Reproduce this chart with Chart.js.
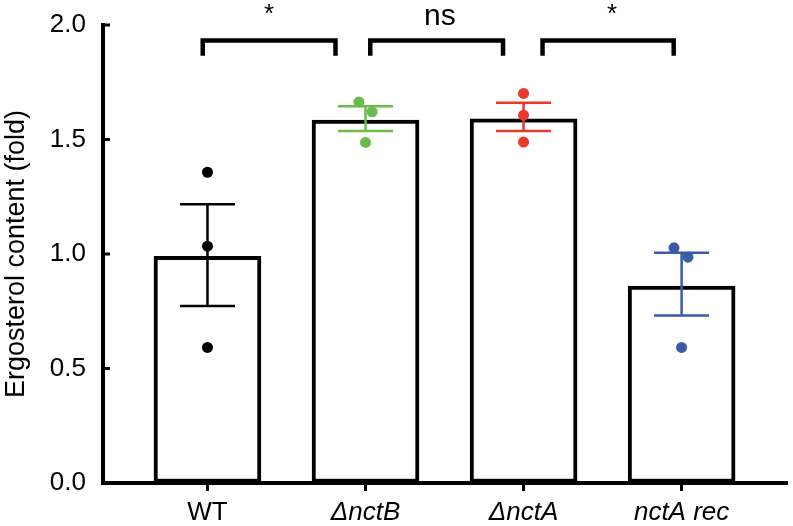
<!DOCTYPE html>
<html>
<head>
<meta charset="utf-8">
<script src="https://cdn.jsdelivr.net/npm/chart.js@4.4.1/dist/chart.umd.min.js"></script>
<style>
  html, body { margin: 0; padding: 0; background: #fff; }
  #wrap { width: 793px; height: 526px; }
</style>
</head>
<body>
<div id="wrap"><canvas id="chart"></canvas></div>
<script>
// Datos
const groups = ['WT', 'ΔnctB', 'ΔnctA', 'nctA rec'];
const means = [0.99, 1.585, 1.59, 0.86];
const errLow = [0.773, 1.537, 1.537, 0.731];
const errHigh = [1.217, 1.645, 1.66, 1.005];
const groupColors = ['#000000', '#68BC4A', '#E8392A', '#3C5AA8'];

// puntos individuales (valor y desplazamiento horizontal)
const pointsWT = [1.357, 1.034, 0.592];
const pointsB = [1.664, 1.621, 1.487];
const pointsA = [1.701, 1.606, 1.489];
const pointsRec = [1.027, 0.986, 0.592];
const jitterWT = [0, 0, 0];
const jitterB = [-0.042, 0.042, 0];
const jitterA = [0, 0, 0];
const jitterRec = [-0.048, 0.04, 0];

const yTicks = [0, 0.5, 1.0, 1.5, 2.0];

// comparaciones: [desde, hasta, etiqueta, posición etiqueta]
const brackets = [
    [-0.03, 0.81, '*', 0.39],
    [1.03, 1.87, 'ns', 1.47],
    [2.12, 2.95, '*', 2.56]
];
const bracketTop = 1.932;
const bracketFoot = 1.866;

const FONT = "'Liberation Sans', Arial, Helvetica, sans-serif";

function pts(vals, jit, idx) {
    return vals.map((v, i) => ({ x: idx + jit[i], y: v }));
}

// Barras de error
const errorBars = {
    id: 'errorBars',
    afterDatasetDraw(chart, args) {
        if (args.index !== 0) return;
        const ctx = chart.ctx;
        const xs = chart.scales.x, ys = chart.scales.y;
        ctx.save();
        ctx.lineWidth = 2.5;
        groups.forEach((g, i) => {
            const x = xs.getPixelForValue(i);
            const y0 = ys.getPixelForValue(errLow[i]);
            const y1 = ys.getPixelForValue(errHigh[i]);
            ctx.strokeStyle = groupColors[i];
            ctx.beginPath();
            ctx.moveTo(x, y0); ctx.lineTo(x, y1);
            ctx.moveTo(x - 27.5, y0); ctx.lineTo(x + 27.5, y0);
            ctx.moveTo(x - 27.5, y1); ctx.lineTo(x + 27.5, y1);
            ctx.stroke();
        });
        ctx.restore();
    }
};

// Marcas del eje Y hacia dentro + corchetes de significancia
const sigBrackets = {
    id: 'sigBrackets',
    afterDraw(chart) {
        const ctx = chart.ctx;
        const xs = chart.scales.x, ys = chart.scales.y;
        ctx.save();
        ctx.strokeStyle = '#000';
        ctx.fillStyle = '#000';

        ctx.lineWidth = 3;
        const ax = chart.chartArea.left;
        yTicks.forEach(v => {
            const py = ys.getPixelForValue(v);
            ctx.beginPath();
            ctx.moveTo(ax, py); ctx.lineTo(ax + 7, py);
            ctx.stroke();
        });

        const yt = ys.getPixelForValue(bracketTop);
        const yf = ys.getPixelForValue(bracketFoot);
        ctx.lineWidth = 4.5;
        ctx.textAlign = 'center';
        ctx.textBaseline = 'alphabetic';
        brackets.forEach(b => {
            const x0 = xs.getPixelForValue(b[0]);
            const x1 = xs.getPixelForValue(b[1]);
            ctx.beginPath();
            ctx.moveTo(x0, yf); ctx.lineTo(x0, yt);
            ctx.lineTo(x1, yt); ctx.lineTo(x1, yf);
            ctx.stroke();
            const lx = xs.getPixelForValue(b[3]);
            if (b[2] === '*') {
                ctx.font = '26px ' + FONT;
                ctx.fillText(b[2], lx, 22);
            } else {
                ctx.font = '30px ' + FONT;
                ctx.fillText(b[2], lx, 25);
            }
        });
        ctx.restore();
    }
};

const pointSets = [
    pts(pointsWT, jitterWT, 0),
    pts(pointsB, jitterB, 1),
    pts(pointsA, jitterA, 2),
    pts(pointsRec, jitterRec, 3)
];

new Chart(document.getElementById('chart'), {
    type: 'bar',
    data: {
        datasets: [
            {
                type: 'bar',
                label: 'Media',
                data: means.map((m, i) => ({ x: i, y: m })),
                backgroundColor: '#ffffff',
                borderColor: '#000000',
                borderWidth: 4,
                borderSkipped: false,
                barThickness: 107,
                order: 2
            },
            ...pointSets.map((p, i) => ({
                type: 'scatter',
                label: groups[i],
                data: p,
                backgroundColor: groupColors[i],
                borderColor: groupColors[i],
                pointRadius: 5.5,
                pointBorderWidth: 0,
                order: 1
            }))
        ]
    },
    options: {
        responsive: true,
        maintainAspectRatio: false,
        animation: false,
        layout: { padding: { top: 25, right: 0, left: 0, bottom: 0 } },
        plugins: {
            legend: { display: false },
            tooltip: { enabled: false }
        },
        scales: {
            x: {
                type: 'linear',
                offset: false,
                min: -0.661,
                max: 3.67,
                afterBuildTicks: s => { s.ticks = groups.map((g, i) => ({ value: i })); },
                afterFit: s => { s.height = 43; },
                ticks: {
                    color: '#000',
                    padding: 6,
                    callback: v => groups[v],
                    font: c => ({ family: FONT, size: 26, style: c.index > 0 ? 'italic' : 'normal' })
                },
                grid: {
                    offset: false,
                    drawOnChartArea: false,
                    tickLength: 8,
                    tickWidth: 3,
                    tickColor: '#000'
                },
                border: { color: '#000', width: 4 }
            },
            y: {
                min: 0,
                max: 2,
                afterBuildTicks: s => { s.ticks = yTicks.map(v => ({ value: v })); },
                afterFit: s => { s.width = 103; s.paddingTop = 0; s.paddingBottom = 0; },
                ticks: {
                    color: '#000',
                    padding: 17,
                    callback: v => v.toFixed(1),
                    font: { family: FONT, size: 26 }
                },
                grid: {
                    drawOnChartArea: false,
                    drawTicks: false
                },
                border: { color: '#000', width: 4 },
                title: {
                    display: true,
                    text: 'Ergosterol content (fold)',
                    color: '#000',
                    padding: 0,
                    font: { family: FONT, size: 27 }
                }
            }
        }
    },
    plugins: [errorBars, sigBrackets]
});
</script>
</body>
</html>
